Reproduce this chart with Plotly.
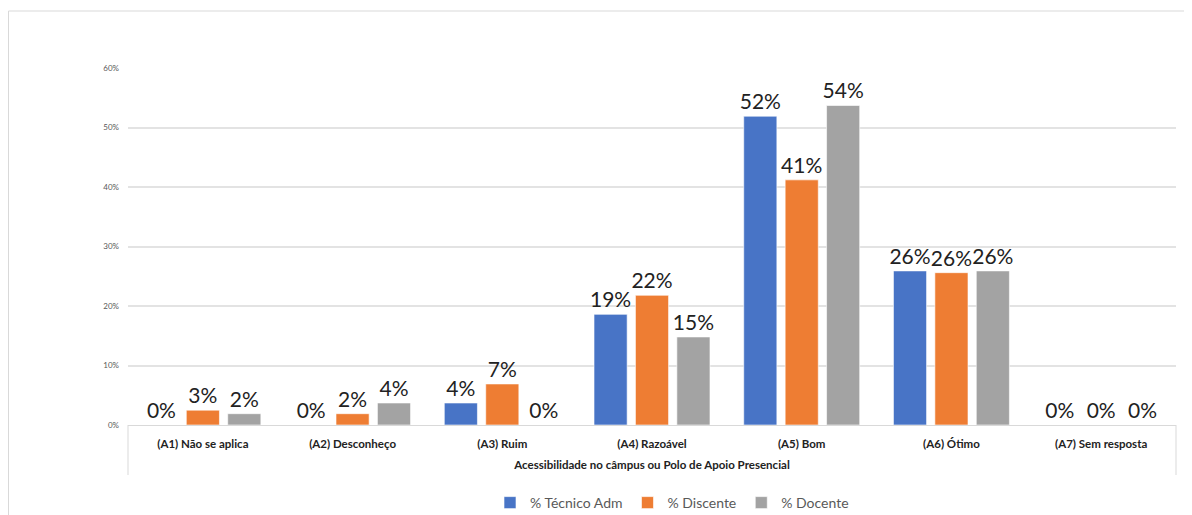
import plotly.graph_objects as go

categories = ["(A1) Não se aplica", "(A2) Desconheço", "(A3) Ruim", "(A4) Razoável",
              "(A5) Bom", "(A6) Ótimo", "(A7) Sem resposta"]
tecnico = [0, 0, 3.7, 18.6, 51.9, 25.9, 0]
discente = [2.5, 1.9, 6.9, 21.8, 41.2, 25.6, 0]
docente = [1.9, 3.7, 0, 14.8, 53.7, 25.9, 0]
series_names = ["% Técnico Adm", "% Discente", "% Docente"]
y_ticks = [0, 10, 20, 30, 40, 50, 60]
y_tick_labels = [f"{v}%" for v in y_ticks]

colors = ["#4874C6", "#EE7D33", "#A3A3A3"]
FONT = "Lato"

OFF = 8  # page body margin
W, H = 1184, 507
L, R, T, B = 120, 16, 60, 90
pw, ph = W - L - R, H - T - B

fig = go.Figure()
for name, vals, col in zip(series_names, [tecnico, discente, docente], colors):
    fig.add_trace(go.Bar(
        x=categories, y=vals, name=name,
        marker=dict(color=col, line=dict(color="rgba(255,255,255,0.6)", width=1)),
        texttemplate="%{y:.0f}%", textposition="outside", constraintext="none",
        textfont=dict(size=21, color="#222222", family=FONT),
        cliponaxis=False,
    ))

def px_x(p):
    return (p - OFF - L) / pw

def px_y(p):
    return (H - B - (p - OFF)) / ph

shapes = [
    dict(type="line", xref="paper", yref="paper", x0=0, x1=0, y0=0, y1=px_y(475),
         line=dict(color="#d9d9d9", width=1)),
    dict(type="line", xref="paper", yref="paper", x0=1, x1=1, y0=0, y1=px_y(475),
         line=dict(color="#d9d9d9", width=1)),
    dict(type="line", xref="paper", yref="paper", x0=px_x(8.5), x1=px_x(8.5), y0=px_y(11), y1=px_y(520),
         line=dict(color="#d9d9d9", width=1)),
    dict(type="line", xref="paper", yref="paper", x0=px_x(8.5), x1=px_x(1200), y0=px_y(11), y1=px_y(11),
         line=dict(color="#d9d9d9", width=1)),
]

fig.update_layout(
    width=W, height=H,
    margin=dict(l=L, r=R, t=T, b=B, autoexpand=False),
    paper_bgcolor="white", plot_bgcolor="white",
    barmode="group", bargap=0.17, bargroupgap=0.2,
    font=dict(family=FONT, color="#595959"),
    showlegend=True,
    legend=dict(orientation="h", x=px_x(672), xanchor="center", y=px_y(503), yanchor="middle",
                font=dict(size=14, color="#595959", family=FONT), traceorder="normal",
                itemwidth=30),
    shapes=shapes,
    xaxis=dict(
        showline=True, linecolor="#d9d9d9", linewidth=1,
        tickfont=dict(size=11.5, color="#222222", family=FONT, weight="bold"),
        ticks="", showgrid=False, ticklabelstandoff=8,
        title=dict(text="<b>Acessibilidade no câmpus ou Polo de Apoio Presencial</b>",
                   font=dict(size=11.5, color="#222222", family=FONT), standoff=12),
    ),
    yaxis=dict(
        range=[0, 60], tickvals=y_ticks, ticktext=y_tick_labels,
        tickfont=dict(size=8, color="#595959", family=FONT),
        showgrid=True, gridcolor="#e3e3e3", gridwidth=1.5, zeroline=False,
        ticks="", ticklabelstandoff=8,
    ),
)

fig.write_html("out.html")
